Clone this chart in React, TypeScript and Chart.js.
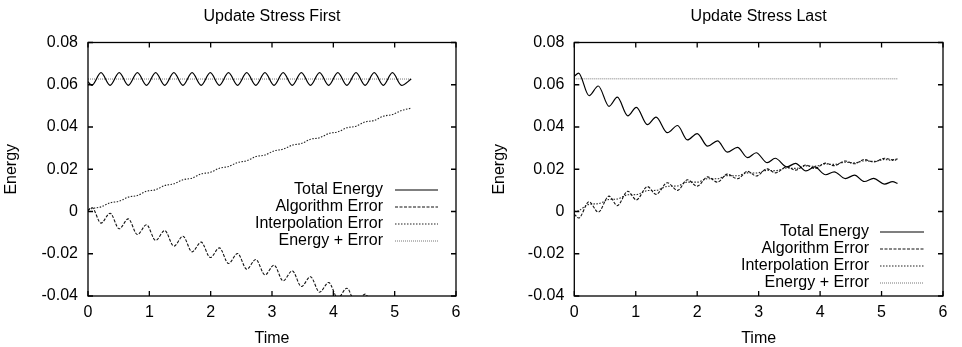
import React, { useEffect, useRef } from 'react';
import { Chart, registerables } from 'chart.js';

Chart.register(...registerables);

// ---------- data ----------
const xTicks = [0, 1, 2, 3, 4, 5, 6];
const xTickLabels = ['0', '1', '2', '3', '4', '5', '6'];
const yTicks = [-0.04, -0.02, 0, 0.02, 0.04, 0.06, 0.08];
const yTickLabels = ['-0.04', '-0.02', '0', '0.02', '0.04', '0.06', '0.08'];
const seriesNames = ['Total Energy', 'Algorithm Error', 'Interpolation Error', 'Energy + Error'];
const chartTitles = ['Update Stress First', 'Update Stress Last'];
const xTitle = 'Time';
const yTitle = 'Energy';

// Update Stress First
const firstTime = [0, 0.063, 0.212, 0.36, 0.509, 0.657, 0.806, 0.954, 1.103, 1.251, 1.4, 1.548, 1.697, 1.845, 1.994, 2.142, 2.291, 2.439, 2.588, 2.736, 2.885, 3.033, 3.182, 3.33, 3.479, 3.627, 3.776, 3.924, 4.073, 4.221, 4.37, 4.518, 4.667, 4.815, 4.964, 5.112, 5.27];
const firstTotal = [0.0615, 0.0597, 0.0657, 0.0597, 0.0657, 0.0597, 0.0657, 0.0597, 0.0657, 0.0597, 0.0657, 0.0597, 0.0657, 0.0597, 0.0657, 0.0597, 0.0657, 0.0597, 0.0657, 0.0597, 0.0657, 0.0597, 0.0657, 0.0597, 0.0657, 0.0597, 0.0657, 0.0597, 0.0657, 0.0597, 0.0657, 0.0597, 0.0657, 0.0597, 0.0657, 0.0597, 0.0627];
const firstAlgorithm = [0.0004, 0.0019, -0.0055, -0.0008, -0.0082, -0.0035, -0.0109, -0.0063, -0.0137, -0.009, -0.0164, -0.0117, -0.0191, -0.0145, -0.0218, -0.0172, -0.0246, -0.0199, -0.0273, -0.0227, -0.03, -0.0254, -0.0328, -0.0281, -0.0355, -0.0309, -0.0382, -0.0336, -0.041, -0.0363, -0.0437, -0.0391, -0.0464, -0.0418, -0.0492, -0.0445, -0.049];
const firstInterpolation = [0.0008, 0.0014, 0.0022, 0.0041, 0.0049, 0.0068, 0.0076, 0.0096, 0.0103, 0.0123, 0.0131, 0.015, 0.0158, 0.0178, 0.0185, 0.0205, 0.0213, 0.0232, 0.024, 0.026, 0.0267, 0.0287, 0.0295, 0.0314, 0.0322, 0.0342, 0.0349, 0.0369, 0.0377, 0.0396, 0.0404, 0.0424, 0.0431, 0.0451, 0.0459, 0.0478, 0.0489];
const firstSumTime = [0, 5.27];
const firstSum = [0.0627, 0.0627];

// Update Stress Last
const lastTime = [0, 0.07, 0.24, 0.39, 0.565, 0.7, 0.87, 1.01, 1.19, 1.33, 1.515, 1.68, 1.84, 2.0, 2.17, 2.33, 2.49, 2.655, 2.82, 2.96, 3.14, 3.27, 3.46, 3.6, 3.77, 3.91, 4.09, 4.23, 4.41, 4.56, 4.72, 4.87, 5.05, 5.18, 5.26];
const lastTotal = [0.064, 0.0655, 0.0548, 0.0594, 0.0498, 0.0541, 0.0453, 0.0493, 0.0411, 0.0447, 0.0373, 0.0407, 0.0339, 0.0369, 0.0309, 0.0334, 0.0281, 0.0304, 0.0255, 0.0278, 0.0231, 0.0252, 0.0211, 0.0228, 0.0192, 0.0211, 0.0174, 0.0188, 0.0156, 0.0172, 0.0142, 0.0157, 0.013, 0.0141, 0.0133];
const lastAlgorithm = [-0.0012, -0.0031, 0.0046, -0.0003, 0.0073, 0.0028, 0.0096, 0.0055, 0.0118, 0.0081, 0.0136, 0.01, 0.015, 0.012, 0.0164, 0.0139, 0.0177, 0.0155, 0.019, 0.0168, 0.0202, 0.0183, 0.0211, 0.0196, 0.022, 0.0203, 0.0229, 0.0217, 0.0239, 0.0226, 0.0246, 0.0234, 0.0252, 0.0245, 0.0249];
const lastInterpolation = [0.0, 0.0004, 0.0034, 0.0037, 0.0057, 0.0059, 0.0079, 0.008, 0.0099, 0.01, 0.0119, 0.0121, 0.0139, 0.0139, 0.0155, 0.0155, 0.017, 0.0169, 0.0183, 0.0182, 0.0195, 0.0193, 0.0206, 0.0204, 0.0216, 0.0214, 0.0225, 0.0223, 0.0233, 0.023, 0.024, 0.0237, 0.0246, 0.0242, 0.0246];
const lastSumTime = [0, 5.26];
const lastSum = [0.0628, 0.0628];

// ---------- styling ----------
const FONT = "'Liberation Sans', Arial, Helvetica, sans-serif";
const TEXT = '#000';
const lineStyles = [
  { color: '#000', dash: [] as number[], width: 1.2 },
  { color: '#111', dash: [3, 1.5], width: 1.1 },
  { color: '#222', dash: [1.5, 1.5], width: 1.1 },
  { color: '#777', dash: [1, 1], width: 1 },
];

const framePlugin = {
  id: 'gnuplotFrame',
  afterDatasetsDraw(chart: any) {
    const { ctx, chartArea: a, scales } = chart;
    const x = scales.x;
    const y = scales.y;
    ctx.save();
    ctx.setLineDash([]);
    ctx.strokeStyle = '#000';
    ctx.lineWidth = 1.3;
    ctx.strokeRect(a.left, a.top, a.right - a.left, a.bottom - a.top);
    ctx.beginPath();
    const L = 5;
    x.ticks.forEach((t: any) => {
      const px = x.getPixelForValue(t.value);
      ctx.moveTo(px, a.bottom);
      ctx.lineTo(px, a.bottom - L);
      ctx.moveTo(px, a.top);
      ctx.lineTo(px, a.top + L);
    });
    y.ticks.forEach((t: any) => {
      const py = y.getPixelForValue(t.value);
      ctx.moveTo(a.left, py);
      ctx.lineTo(a.left + L, py);
      ctx.moveTo(a.right, py);
      ctx.lineTo(a.right - L, py);
    });
    ctx.stroke();
    ctx.restore();
  },
};

const legendPlugin = {
  id: 'gnuplotLegend',
  afterDraw(chart: any, _args: any, opts: any) {
    const { ctx } = chart;
    ctx.save();
    ctx.font = `16px ${FONT}`;
    ctx.textAlign = 'right';
    ctx.textBaseline = 'middle';
    chart.data.datasets.forEach((ds: any, i: number) => {
      const yy = opts.top + i * opts.rowHeight;
      ctx.fillStyle = TEXT;
      ctx.fillText(ds.label, opts.textRight, yy);
      ctx.beginPath();
      ctx.setLineDash(ds.borderDash || []);
      ctx.strokeStyle = ds.borderColor;
      ctx.lineWidth = ds.borderWidth;
      ctx.moveTo(opts.lineStart, yy);
      ctx.lineTo(opts.lineEnd, yy);
      ctx.stroke();
    });
    ctx.restore();
  },
};

type Props = {
  title: string;
  time: number[];
  total: number[];
  algorithm: number[];
  interpolation: number[];
  sumTime: number[];
  sum: number[];
  yAxisWidth: number;
  rightPad: number;
  yTitlePad: number;
  legend: { textRight: number; lineStart: number; lineEnd: number; top: number; rowHeight: number };
};

function EnergyChart(p: Props) {
  const ref = useRef<HTMLCanvasElement>(null);
  useEffect(() => {
    const pts = (t: number[], v: number[]) => t.map((x, i) => ({ x, y: v[i] }));
    const series = [
      pts(p.time, p.total),
      pts(p.time, p.algorithm),
      pts(p.time, p.interpolation),
      pts(p.sumTime, p.sum),
    ];
    const datasets = series.map((d, i) => ({
      label: seriesNames[i],
      data: d,
      borderColor: lineStyles[i].color,
      borderDash: lineStyles[i].dash,
      borderWidth: lineStyles[i].width,
      pointRadius: 0,
      fill: false,
      cubicInterpolationMode: 'monotone' as const,
    }));
    const tickFont = { family: FONT, size: 16, lineHeight: 1.2 };
    const chart = new Chart(ref.current as HTMLCanvasElement, {
      type: 'line',
      data: { datasets },
      options: {
        animation: false,
        responsive: false,
        devicePixelRatio: 1,
        layout: { padding: { left: 0, right: p.rightPad, top: 0, bottom: 0 } },
        plugins: {
          legend: { display: false },
          tooltip: { enabled: false },
          title: {
            display: true,
            text: p.title,
            fullSize: false,
            color: TEXT,
            font: { family: FONT, size: 16, weight: 'normal', lineHeight: 1.2 },
            padding: { top: 7, bottom: 16.3 },
          },
          gnuplotLegend: p.legend,
        } as any,
        scales: {
          x: {
            type: 'linear',
            min: 0,
            max: 6,
            afterBuildTicks: (s: any) => {
              s.ticks = xTicks.map((v) => ({ value: v }));
            },
            afterFit: (s: any) => {
              s.height = 51;
            },
            ticks: {
              color: TEXT,
              font: tickFont,
              padding: 7,
              maxRotation: 0,
              autoSkip: false,
              callback: (v: any) => {
                const i = xTicks.indexOf(Number(v));
                return i >= 0 ? xTickLabels[i] : '';
              },
            },
            grid: { display: false, drawTicks: false },
            border: { display: false },
            title: {
              display: true,
              text: xTitle,
              color: TEXT,
              font: { family: FONT, size: 16, lineHeight: 1 },
              padding: 0,
            },
          },
          y: {
            type: 'linear',
            min: -0.04,
            max: 0.08,
            afterBuildTicks: (s: any) => {
              s.ticks = yTicks.map((v) => ({ value: v }));
            },
            afterFit: (s: any) => {
              s.width = p.yAxisWidth;
            },
            ticks: {
              color: TEXT,
              font: tickFont,
              padding: 10,
              autoSkip: false,
              callback: (v: any) => {
                const i = yTicks.indexOf(Number(v));
                return i >= 0 ? yTickLabels[i] : '';
              },
            },
            grid: { display: false, drawTicks: false },
            border: { display: false },
            title: {
              display: true,
              text: yTitle,
              color: TEXT,
              font: { family: FONT, size: 16, lineHeight: 1 },
              padding: { top: p.yTitlePad, bottom: 0 },
            },
          },
        },
      } as any,
      plugins: [framePlugin, legendPlugin],
    });
    return () => chart.destroy();
  }, []);
  return <canvas ref={ref} width={481} height={347} style={{ display: 'block', width: 481, height: 347 }} />;
}

export default function App() {
  return (
    <div style={{ position: 'absolute', left: 0, top: 0, width: 962, height: 347, display: 'flex', background: '#fff' }}>
      <EnergyChart
        title={chartTitles[0]}
        time={firstTime}
        total={firstTotal}
        algorithm={firstAlgorithm}
        interpolation={firstInterpolation}
        sumTime={firstSumTime}
        sum={firstSum}
        yAxisWidth={88}
        rightPad={25}
        yTitlePad={3.7}
        legend={{ textRight: 383, lineStart: 395, lineEnd: 438, top: 190, rowHeight: 17 }}
      />
      <EnergyChart
        title={chartTitles[1]}
        time={lastTime}
        total={lastTotal}
        algorithm={lastAlgorithm}
        interpolation={lastInterpolation}
        sumTime={lastSumTime}
        sum={lastSum}
        yAxisWidth={93.3}
        rightPad={19}
        yTitlePad={10.3}
        legend={{ textRight: 388, lineStart: 399, lineEnd: 443, top: 232, rowHeight: 17 }}
      />
    </div>
  );
}
